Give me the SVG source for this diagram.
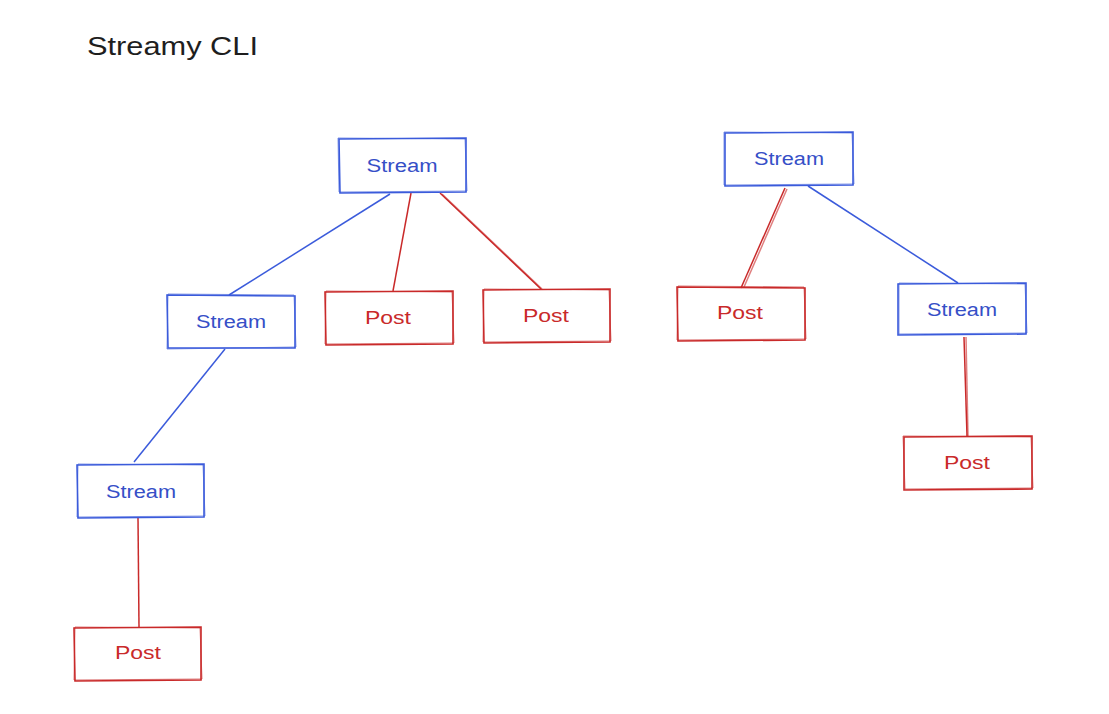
<svg xmlns="http://www.w3.org/2000/svg" width="1109" height="714" viewBox="0 0 1109 714">
<style>
.bg{fill:#ffffff}
.sb{fill:none;stroke:#3b5bdb;stroke-width:1.6}
.pr{fill:none;stroke:#c92a2a;stroke-width:1.6}
.sb2{fill:none;stroke:#3b5bdb;stroke-width:0.9;opacity:0.7}
.pr2{fill:none;stroke:#c92a2a;stroke-width:0.9;opacity:0.7}
.ts{font-family:"Liberation Sans",Arial,sans-serif;font-size:18px;fill:#364fc7;text-anchor:middle;dominant-baseline:central}
.tp{font-family:"Liberation Sans",Arial,sans-serif;font-size:18px;fill:#c92a2a;text-anchor:middle;dominant-baseline:central}
.title{font-family:"Liberation Sans",Arial,sans-serif;font-size:25px;fill:#1e1e1e}
.cb{fill:none;stroke:#3b5bdb;stroke-width:1.5}
.cr{fill:none;stroke:#c92a2a;stroke-width:1.5}
</style>
<rect class="bg" x="0" y="0" width="1109" height="714"/>
<text class="title" x="87" y="55" textLength="171" lengthAdjust="spacingAndGlyphs">Streamy CLI</text>

<g id="connectors">
<path class="cb" d="M390 194 L229 295"/>
<path class="cr" d="M411 193 L393 291"/>
<path class="cr" d="M440 193 L541 289"/>
<path class="cr" d="M442 194 L542 289" style="opacity:0.6"/>
<path class="cb" d="M225 349 L134 462"/>
<path class="cr" d="M138 518 L139 627"/>
<path class="cr" d="M785 188 L741 288"/>
<path class="cr" d="M787 189 L744 287" style="opacity:0.6"/>
<path class="cb" d="M808 186 L958 283"/>
<path class="cr" d="M964 337 L967 436"/>
<path class="cr" d="M966 337 L968 436" style="opacity:0.6"/>
</g>

<g id="stream1">
<path class="sb" d="M339 139 L466 138 L466 192 L340 193 Z"/>
<path class="sb2" d="M338 138 L465 139 L467 191 L339 192 Z"/>
<text class="ts" x="402" y="166" textLength="71" lengthAdjust="spacingAndGlyphs">Stream</text>
</g>
<g id="stream2">
<path class="sb" d="M167 295 L295 296 L295 348 L168 348 Z"/>
<path class="sb2" d="M168 294 L294 295 L296 347 L167 349 Z"/>
<text class="ts" x="231" y="322" textLength="70" lengthAdjust="spacingAndGlyphs">Stream</text>
</g>
<g id="post1">
<path class="pr" d="M325 292 L453 291 L453 344 L326 345 Z"/>
<path class="pr2" d="M326 291 L452 292 L454 343 L325 344 Z"/>
<text class="tp" x="388" y="318" textLength="46" lengthAdjust="spacingAndGlyphs">Post</text>
</g>
<g id="post2">
<path class="pr" d="M483 290 L610 289 L610 342 L484 343 Z"/>
<path class="pr2" d="M484 289 L609 290 L611 341 L483 342 Z"/>
<text class="tp" x="546" y="316" textLength="46" lengthAdjust="spacingAndGlyphs">Post</text>
</g>
<g id="stream3">
<path class="sb" d="M725 133 L853 132 L853 185 L725 186 Z"/>
<path class="sb2" d="M724 132 L852 133 L854 184 L724 185 Z"/>
<text class="ts" x="789" y="159" textLength="70" lengthAdjust="spacingAndGlyphs">Stream</text>
</g>
<g id="post3">
<path class="pr" d="M677 287 L805 288 L805 340 L678 341 Z"/>
<path class="pr2" d="M678 286 L804 287 L806 339 L677 340 Z"/>
<text class="tp" x="740" y="313" textLength="46" lengthAdjust="spacingAndGlyphs">Post</text>
</g>
<g id="stream4">
<path class="sb" d="M898 284 L1026 283 L1026 334 L898 335 Z"/>
<path class="sb2" d="M899 283 L1025 284 L1027 333 L899 334 Z"/>
<text class="ts" x="962" y="310" textLength="70" lengthAdjust="spacingAndGlyphs">Stream</text>
</g>
<g id="post4">
<path class="pr" d="M904 437 L1032 436 L1032 489 L904 490 Z"/>
<path class="pr2" d="M903 436 L1031 437 L1033 488 L905 489 Z"/>
<text class="tp" x="967" y="463" textLength="46" lengthAdjust="spacingAndGlyphs">Post</text>
</g>
<g id="stream5">
<path class="sb" d="M77 465 L204 464 L204 517 L78 518 Z"/>
<path class="sb2" d="M78 464 L203 465 L205 516 L77 517 Z"/>
<text class="ts" x="141" y="492" textLength="70" lengthAdjust="spacingAndGlyphs">Stream</text>
</g>
<g id="post5">
<path class="pr" d="M74 628 L201 627 L201 680 L75 681 Z"/>
<path class="pr2" d="M75 627 L200 628 L202 679 L74 680 Z"/>
<text class="tp" x="138" y="653" textLength="46" lengthAdjust="spacingAndGlyphs">Post</text>
</g>
</svg>
